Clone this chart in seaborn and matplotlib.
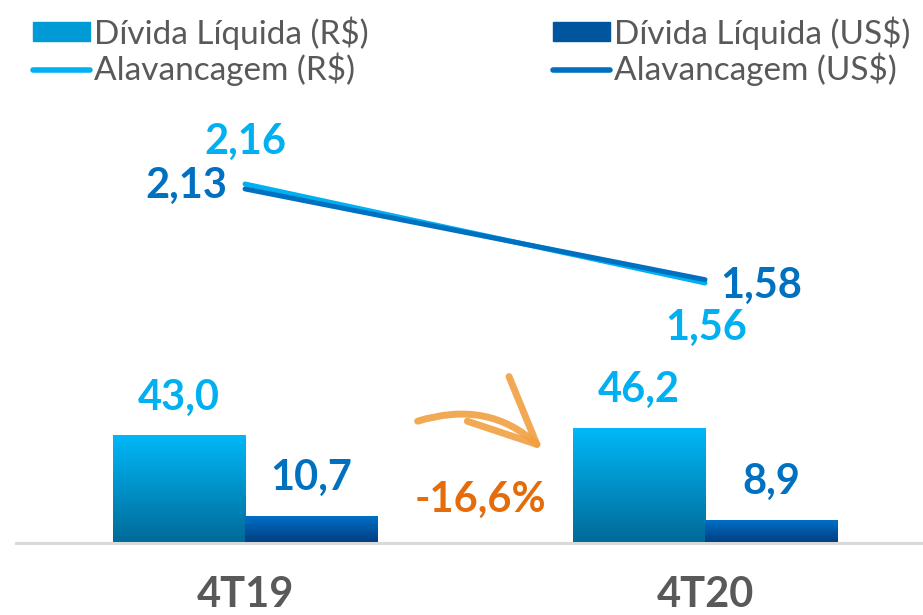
import numpy as np
import pandas as pd
import matplotlib
matplotlib.use("Agg")
import matplotlib.pyplot as plt
import seaborn as sns
from matplotlib.colors import LinearSegmentedColormap
from matplotlib.patches import Patch
from matplotlib.lines import Line2D

# dados
periodos = ["4T19", "4T20"]
divida_rs = [43.0, 46.2]
divida_us = [10.7, 8.9]
alav_rs = [2.16, 1.56]
alav_us = [2.13, 1.58]
variacao = "-16,6%"

series = ["Dívida Líquida (R$)", "Dívida Líquida (US$)"]
cor_rs = "#00B0F0"
cor_us = "#0070C0"
cinza = "#595959"

sns.set_theme(style="white")
plt.rcParams["font.family"] = ["Lato", "DejaVu Sans"]

df = pd.DataFrame({
    "periodo": periodos * 2,
    "serie": [series[0]] * 2 + [series[1]] * 2,
    "valor": divida_rs + divida_us,
})

fig = plt.figure(figsize=(9.23, 6.15), dpi=100)
ax = fig.add_axes([16 / 923, 72 / 615, 907 / 923, 443 / 615])

sns.barplot(data=df, x="periodo", y="valor", hue="serie", ax=ax,
            palette={series[0]: cor_rs, series[1]: cor_us},
            width=0.574, saturation=1, linewidth=0, legend=False)

# gradiente vertical nas barras
grads = [("#00B8F8", "#006A98"), ("#0070C8", "#003C7C")]
for cont, (top, bot) in zip(ax.containers, grads):
    cmap = LinearSegmentedColormap.from_list("g", [bot, top])
    for bar in cont:
        x0, w, h = bar.get_x(), bar.get_width(), bar.get_height()
        ax.imshow(np.linspace(0, 1, 256).reshape(-1, 1), extent=[x0, x0 + w, 0, h],
                  origin="lower", aspect="auto", cmap=cmap, zorder=bar.get_zorder() + 0.1)

for cont, vals, c in zip(ax.containers, [divida_rs, divida_us], [cor_rs, cor_us]):
    ax.bar_label(cont, labels=[f"{v:.1f}".replace(".", ",") for v in vals], padding=14,
                 fontsize=30, fontweight="bold", color=c)

ax.set_xlim(-0.498, 1.474)
ax.set_ylim(0, 178)
ax.set_xlabel("")
ax.set_ylabel("")
ax.set_yticks([])
for s in ["top", "left", "right"]:
    ax.spines[s].set_visible(False)
ax.spines["bottom"].set_color("#D9D9D9")
ax.spines["bottom"].set_linewidth(2.2)
ax.tick_params(axis="x", length=0, pad=24, labelsize=30, labelcolor=cinza)
for t in ax.get_xticklabels():
    t.set_fontweight("bold")

# alavancagem no eixo secundario
ax2 = ax.twinx()
xpos = np.arange(len(periodos))
sns.lineplot(x=xpos, y=alav_rs, ax=ax2, color=cor_rs, lw=3.6, solid_capstyle="round")
sns.lineplot(x=xpos, y=alav_us, ax=ax2, color=cor_us, lw=3.6, solid_capstyle="round")
ax2.set_ylim(-0.016, 2.669)
ax2.set_yticks([])
ax2.set_ylabel("")
for s in ax2.spines.values():
    s.set_visible(False)

lab = dict(textcoords="offset pixels", fontsize=30, fontweight="bold", va="center")
ax2.annotate(f"{alav_rs[0]:.2f}".replace(".", ","), (0, alav_rs[0]), xytext=(0, 42),
             ha="center", color=cor_rs, **lab)
ax2.annotate(f"{alav_us[0]:.2f}".replace(".", ","), (0, alav_us[0]), xytext=(-18, 3),
             ha="right", color=cor_us, **lab)
ax2.annotate(f"{alav_us[1]:.2f}".replace(".", ","), (1, alav_us[1]), xytext=(15, -6),
             ha="left", color=cor_us, **lab)
ax2.annotate(f"{alav_rs[1]:.2f}".replace(".", ","), (1, alav_rs[1]), xytext=(1, -45),
             ha="center", color=cor_rs, **lab)

# seta e variacao
ax2.annotate("", xy=(545, 615 - 452), xycoords="figure pixels",
             xytext=(415, 615 - 422), textcoords="figure pixels",
             arrowprops=dict(arrowstyle="->,head_length=2.4,head_width=1.1",
                             connectionstyle="arc3,rad=-0.3", color="#F0A040",
                             lw=5, mutation_scale=20, alpha=0.9))
fig.text(480 / 923, 1 - 500 / 615, variacao, ha="center", va="center",
         fontsize=30, fontweight="bold", color="#E46C0A")

# legenda
leg_kw = dict(loc="upper left", frameon=False, handlelength=1.72,
              handleheight=0.5, handletextpad=0.1, labelspacing=0.1,
              borderpad=0, borderaxespad=0, labelcolor=cinza,
              prop={"family": ["Lato", "DejaVu Sans"], "size": 24, "weight": "normal"})
fig.legend(handles=[Patch(color="#009BD6", label=series[0]),
                    Line2D([], [], color=cor_rs, lw=4, solid_capstyle="round",
                           label="Alavancagem (R$)")],
           bbox_to_anchor=(33 / 923, 1 - 16 / 615), **leg_kw)
fig.legend(handles=[Patch(color="#00559E", label=series[1]),
                    Line2D([], [], color=cor_us, lw=4, solid_capstyle="round",
                           label="Alavancagem (US$)")],
           bbox_to_anchor=(553 / 923, 1 - 16 / 615), **leg_kw)

fig.savefig("out.png", dpi=100)
